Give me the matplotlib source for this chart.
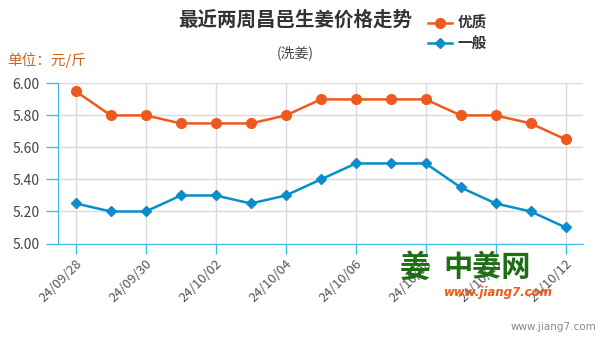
import matplotlib
matplotlib.use('Agg')
import matplotlib.pyplot as plt
import numpy as np

plt.rcParams['font.family'] = ['Noto Sans CJK SC', 'DejaVu Sans']

# data (daily, labels every 2 days)
dates = ['24/09/28', '24/09/29', '24/09/30', '24/10/01', '24/10/02', '24/10/03', '24/10/04',
         '24/10/05', '24/10/06', '24/10/07', '24/10/08', '24/10/09', '24/10/10', '24/10/11',
         '24/10/12']
good = [5.95, 5.80, 5.80, 5.75, 5.75, 5.75, 5.80, 5.90, 5.90, 5.90, 5.90, 5.80, 5.80, 5.75, 5.65]
normal = [5.25, 5.20, 5.20, 5.30, 5.30, 5.25, 5.30, 5.40, 5.50, 5.50, 5.50, 5.35, 5.25, 5.20, 5.10]
yticks = [5.00, 5.20, 5.40, 5.60, 5.80, 6.00]

orange = '#EE5A1E'
blue = '#0A8DCB'
axis_blue = '#3BBDE8'

fig = plt.figure(figsize=(5.99, 3.39), dpi=100)
ax = fig.add_axes([0.0963, 0.2817, 0.8767, 0.4723])

x = np.arange(len(dates))
ax.plot(x, good, color=orange, lw=1.8, marker='o', ms=7, label='优质', zorder=3)
ax.plot(x, normal, color=blue, lw=1.8, marker='D', ms=5, label='一般', zorder=3)

ax.set_xlim(-0.52, 14.49)
ax.set_ylim(5.0, 6.0)
ax.set_yticks(yticks)
ax.set_yticklabels(['%.2f' % v for v in yticks], fontsize=10, color='#444444')
ax.set_xticks(x[::2])
ax.set_xticklabels([dates[i] for i in x[::2]], rotation=45, ha='right', rotation_mode='anchor',
                   fontsize=9.5, color='#555555')
ax.tick_params(axis='x', length=7, color=axis_blue, width=1, pad=3)
ax.tick_params(axis='y', length=9, color=axis_blue, width=1, pad=4)
ax.grid(True, color='#DADADA', lw=1)
ax.set_axisbelow(True)
for s in ['top', 'right']:
    ax.spines[s].set_visible(False)
ax.spines['left'].set_color(axis_blue)
ax.spines['bottom'].set_color(axis_blue)
ax.spines['bottom'].set_zorder(4)

fig.text(0.493, 0.94, '最近两周昌邑生姜价格走势', ha='center', va='center', fontsize=14,
         fontweight='bold', color='#333333')
fig.text(0.493, 0.843, '(洗姜)', ha='center', va='center', fontsize=10, color='#444444')
fig.text(0.012, 0.823, '单位：元/斤', ha='left', va='center', fontsize=10.5, color='#C8641E')

leg = fig.legend(loc='upper left', bbox_to_anchor=(0.693, 0.995), frameon=False,
                 prop={'size': 10.5, 'weight': 'bold'},
                 handlelength=1.6, handletextpad=0.4, labelspacing=0.3)
for t in leg.get_texts():
    t.set_color('#333333')

# watermark
fig.text(0.668, 0.21, '姜', ha='left', va='center', fontsize=22, fontweight='bold', color='#1E6E14')
fig.text(0.74, 0.212, '中姜网', ha='left', va='center', fontsize=21, fontweight='bold', color='#1E6E14')
fig.text(0.742, 0.138, 'www.jiang7.com', ha='left', va='center', fontsize=8.5, fontweight='bold',
         style='italic', color='#F05A14', family='DejaVu Sans')
fig.text(0.995, 0.035, 'www.jiang7.com', ha='right', va='center', fontsize=7.5, color='#888888',
         family='DejaVu Sans')

fig.savefig('out.png', dpi=100)
